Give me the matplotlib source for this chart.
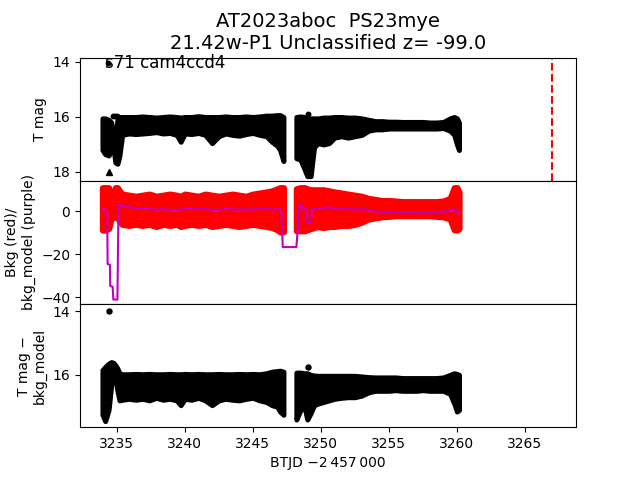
import numpy as np
import matplotlib
matplotlib.use('Agg')
import matplotlib.pyplot as plt

# ---------------- data ----------------
# time grids of the two observing chunks (BTJD - 2457000)
t_a = [3233.95, 3234.15, 3234.4, 3234.6, 3234.75, 3234.9, 3235.05, 3235.2, 3235.4, 3235.9,
       3236.4, 3236.9, 3237.4, 3237.9, 3238.4, 3238.9, 3239.4, 3239.7, 3240.0, 3240.5,
       3241.0, 3241.5, 3242.0, 3242.5, 3243.0, 3243.5, 3244.0, 3244.5, 3245.0, 3245.5,
       3246.0, 3246.4, 3246.8, 3247.0, 3247.25]
t_b = [3248.2, 3248.5, 3248.8, 3249.0, 3249.25, 3249.5, 3249.8, 3250.2, 3250.6, 3251.0,
       3251.5, 3252.0, 3252.5, 3253.0, 3253.5, 3254.0, 3254.5, 3255.0, 3255.5, 3256.0,
       3256.5, 3257.0, 3257.5, 3258.0, 3258.5, 3259.0, 3259.5, 3259.8, 3260.0, 3260.15]

# T mag envelope (bright edge / faint edge)
tmag_hi_a = [16.05, 16.05, 16.1, 16.2, 16.8, 16.8, 16.1, 16.0, 16.0, 16.0,
             16.0, 15.98, 16.0, 16.02, 16.0, 15.98, 16.0, 16.02, 16.0, 16.0,
             15.97, 16.0, 16.0, 16.0, 15.98, 16.0, 16.0, 15.98, 16.0, 15.98,
             15.95, 15.95, 15.93, 15.93, 16.0]
tmag_lo_a = [17.2, 17.35, 17.4, 17.2, 17.1, 17.65, 17.7, 17.4, 16.65, 16.6,
             16.62, 16.6, 16.58, 16.55, 16.6, 16.58, 16.65, 16.9, 16.6, 16.62,
             16.58, 16.65, 16.95, 16.7, 16.6, 16.65, 16.68, 16.62, 16.58, 16.65,
             16.7, 16.9, 17.05, 17.2, 17.6]
tmag_hi_b = [16.0, 15.98, 16.0, 16.05, 16.05, 16.05, 16.05, 16.02, 16.02, 16.0,
             16.0, 16.02, 16.02, 16.05, 16.1, 16.15, 16.15, 16.17, 16.17, 16.18,
             16.18, 16.18, 16.18, 16.2, 16.2, 16.18, 16.05, 16.0, 16.05, 16.2]
tmag_lo_b = [17.5, 17.55, 17.9, 18.15, 18.15, 17.1, 16.95, 17.0, 16.95, 16.75,
             16.7, 16.75, 16.7, 16.65, 16.5, 16.45, 16.45, 16.42, 16.42, 16.42,
             16.42, 16.42, 16.42, 16.42, 16.42, 16.4, 16.5, 16.65, 17.0, 17.2]
tmag_extra_t = [3234.35, 3234.75, 3234.9, 3235.05, 3249.06]
tmag_extra = [14.05, 15.98, 15.98, 15.98, 15.88]
tmag_limit_t = [3234.44]
tmag_limit = [18.0]

# background flux envelope (red)
bkg_hi_a = [11, 11, 11, 6, 6, 11, 11, 9.5, 8, 7.5,
            7, 7.5, 8, 7, 7.5, 8, 7.5, 7, 8, 7.5,
            7, 8, 7.5, 7, 7.5, 8, 7.5, 7, 8, 8.5,
            9, 9.5, 10.5, 11, 11]
bkg_lo_a = [-8.7, -8.7, -8, -3, -2.5, -2.7, -2.7, -4.5, -6, -6.5,
            -6, -6.5, -6, -7, -6, -6.5, -6, -7, -6.5, -6,
            -6.5, -6, -7, -6.5, -6, -6.5, -7, -6.5, -6, -6.5,
            -7, -7.5, -8.5, -9.5, -9.5]
bkg_hi_b = [10.5, 11, 11, 10.5, 10, 10, 10, 10, 9.5, 9,
            8.5, 8, 7.5, 7, 6, 5.5, 5, 5, 4.8, 4.5,
            4.5, 4.5, 4.5, 4.5, 4.5, 4.8, 6, 11, 11, 9]
bkg_lo_b = [-9, -9, -9, -8.5, -8, -7.5, -7, -7.5, -7, -7,
            -6.5, -6.5, -6, -5, -3.5, -3, -2.5, -2.3, -2, -2,
            -2, -2, -2, -2, -2.3, -2.5, -3.5, -8.5, -8.7, -8]

# background model (purple line)
model_t = [3233.92, 3234.05, 3234.2, 3234.3, 3234.33, 3234.5, 3234.52, 3234.7, 3234.75, 3235.05,
           3235.13, 3235.5, 3236.0, 3236.5, 3237.0, 3237.5, 3238.0, 3238.5, 3239.0, 3239.5,
           3240.0, 3240.5, 3241.0, 3241.5, 3242.0, 3242.5, 3243.0, 3243.5, 3244.0, 3244.5,
           3245.0, 3245.5, 3246.0, 3246.5, 3246.9, 3247.1, 3247.2, 3248.2, 3248.45, 3248.7,
           3248.9, 3249.0, 3249.2, 3249.35, 3249.8, 3250.5, 3251.0, 3251.5, 3252.0, 3252.5,
           3253.0, 3253.5, 3254.0, 3254.5, 3255.0, 3255.5, 3256.0, 3256.5, 3257.0, 3257.5,
           3258.0, 3258.5, 3259.0, 3259.5, 3259.8, 3260.1]
model_v = [1.0, 1.3, 0.5, -1.5, -24.5, -24.8, -34.7, -35.0, -41.0, -41.0,
           3.0, 2.5, 1.8, 1.5, 1.2, 1.0, 0.8, 1.0, 0.5, 0.8,
           1.2, 1.0, 1.5, 1.2, 0.8, 0.5, 1.2, 1.0, 0.6, 1.0,
           0.8, 1.2, 1.5, 0.5, 1.5, -1.0, -16.6, -16.6, 3.5, 1.5,
           1.0, -5.0, -5.0, 1.0, 1.5, 1.8, 1.5, 1.2, 1.5, 0.8,
           1.0, 0.5, 0.0, -0.3, -0.2, -0.4, -0.3, -0.5, -0.4, -0.5,
           -0.5, -0.4, -0.2, 0.5, 1.0, -1.0]

# T mag - bkg_model envelope
dmag_hi_a = [15.85, 15.75, 15.65, 15.6, 15.62, 15.7, 15.8, 15.95, 15.98, 15.98,
             15.97, 15.98, 15.97, 15.98, 15.98, 15.97, 15.98, 15.98, 15.97, 15.98,
             15.97, 15.98, 15.98, 15.97, 15.98, 15.98, 15.97, 15.98, 15.97, 15.98,
             15.95, 15.9, 15.88, 15.87, 15.9]
dmag_lo_a = [17.25, 17.45, 17.1, 16.3, 16.1, 16.1, 16.5, 16.8, 16.78, 16.75,
             16.78, 16.75, 16.8, 16.72, 16.78, 16.75, 16.8, 16.95, 16.75, 16.78,
             16.72, 16.8, 16.95, 16.8, 16.75, 16.78, 16.8, 16.75, 16.72, 16.8,
             16.85, 16.95, 17.0, 17.15, 17.25]
dmag_hi_b = [15.93, 15.93, 15.95, 15.95, 16.0, 16.02, 16.03, 16.03, 16.03, 16.03,
             16.03, 16.03, 16.03, 16.05, 16.07, 16.08, 16.08, 16.08, 16.08, 16.1,
             16.1, 16.1, 16.1, 16.1, 16.1, 16.08, 16.0, 15.95, 15.97, 16.0]
dmag_lo_b = [17.4, 17.1, 17.0, 17.4, 17.2, 16.95, 16.9, 16.85, 16.8, 16.75,
             16.72, 16.7, 16.7, 16.65, 16.55, 16.5, 16.5, 16.5, 16.48, 16.5,
             16.5, 16.5, 16.48, 16.5, 16.5, 16.5, 16.6, 16.9, 17.15, 17.1]
dmag_extra_t = [3234.4, 3249.06]
dmag_extra = [14.0, 15.75]

event_t = 3267.0

title = 'AT2023aboc  PS23mye\n21.42w-P1 Unclassified z= -99.0'

# ---------------- plotting ----------------
fig, axs = plt.subplots(3, 1, sharex=True, figsize=(6.4, 4.8), dpi=100)
fig.subplots_adjust(hspace=0)


def band(ax, t, hi, lo, color, lw):
    ax.fill_between(t, hi, lo, facecolor=color, edgecolor=color, lw=lw,
                    joinstyle='round', capstyle='round')


ax = axs[0]
band(ax, t_a, tmag_hi_a, tmag_lo_a, 'k', 3.6)
band(ax, t_b, tmag_hi_b, tmag_lo_b, 'k', 3.6)
ax.plot(tmag_extra_t, tmag_extra, 'ko', ms=3.2)
ax.plot(tmag_limit_t, tmag_limit, 'k^', ms=5)
ax.axvline(event_t, color='r', ls='--', lw=1.5)
ax.set_ylim(18.32, 13.84)
ax.set_yticks([14, 16, 18])
ax.set_ylabel('T mag')
ax.text(0.05, 0.955, 's71 cam4ccd4', transform=ax.transAxes, fontsize=12, va='center')
ax.set_title(title, fontsize=14)

ax = axs[1]
band(ax, t_a, bkg_hi_a, bkg_lo_a, 'r', 4.5)
band(ax, t_b, bkg_hi_b, bkg_lo_b, 'r', 4.5)
ax.plot(model_t, model_v, '-', color='m', lw=1.5)
ax.set_ylim(-43.06, 14.2)
ax.set_yticks([0, -20, -40])
ax.set_ylabel('Bkg (red)/\nbkg_model (purple)')

ax = axs[2]
band(ax, t_a, dmag_hi_a, dmag_lo_a, 'k', 3.6)
band(ax, t_b, dmag_hi_b, dmag_lo_b, 'k', 3.6)
ax.plot(dmag_extra_t, dmag_extra, 'ko', ms=3.6)
ax.set_ylim(17.64, 13.78)
ax.set_yticks([14, 16])
ax.set_ylabel('T mag \u2212\nbkg_model')

ax.set_xlim(3232.3, 3268.75)
ax.set_xticks([3235, 3240, 3245, 3250, 3255, 3260, 3265])
ax.set_xlabel('BTJD \u22122\u2009457\u2009000')

fig.savefig('out.png', dpi=100)
